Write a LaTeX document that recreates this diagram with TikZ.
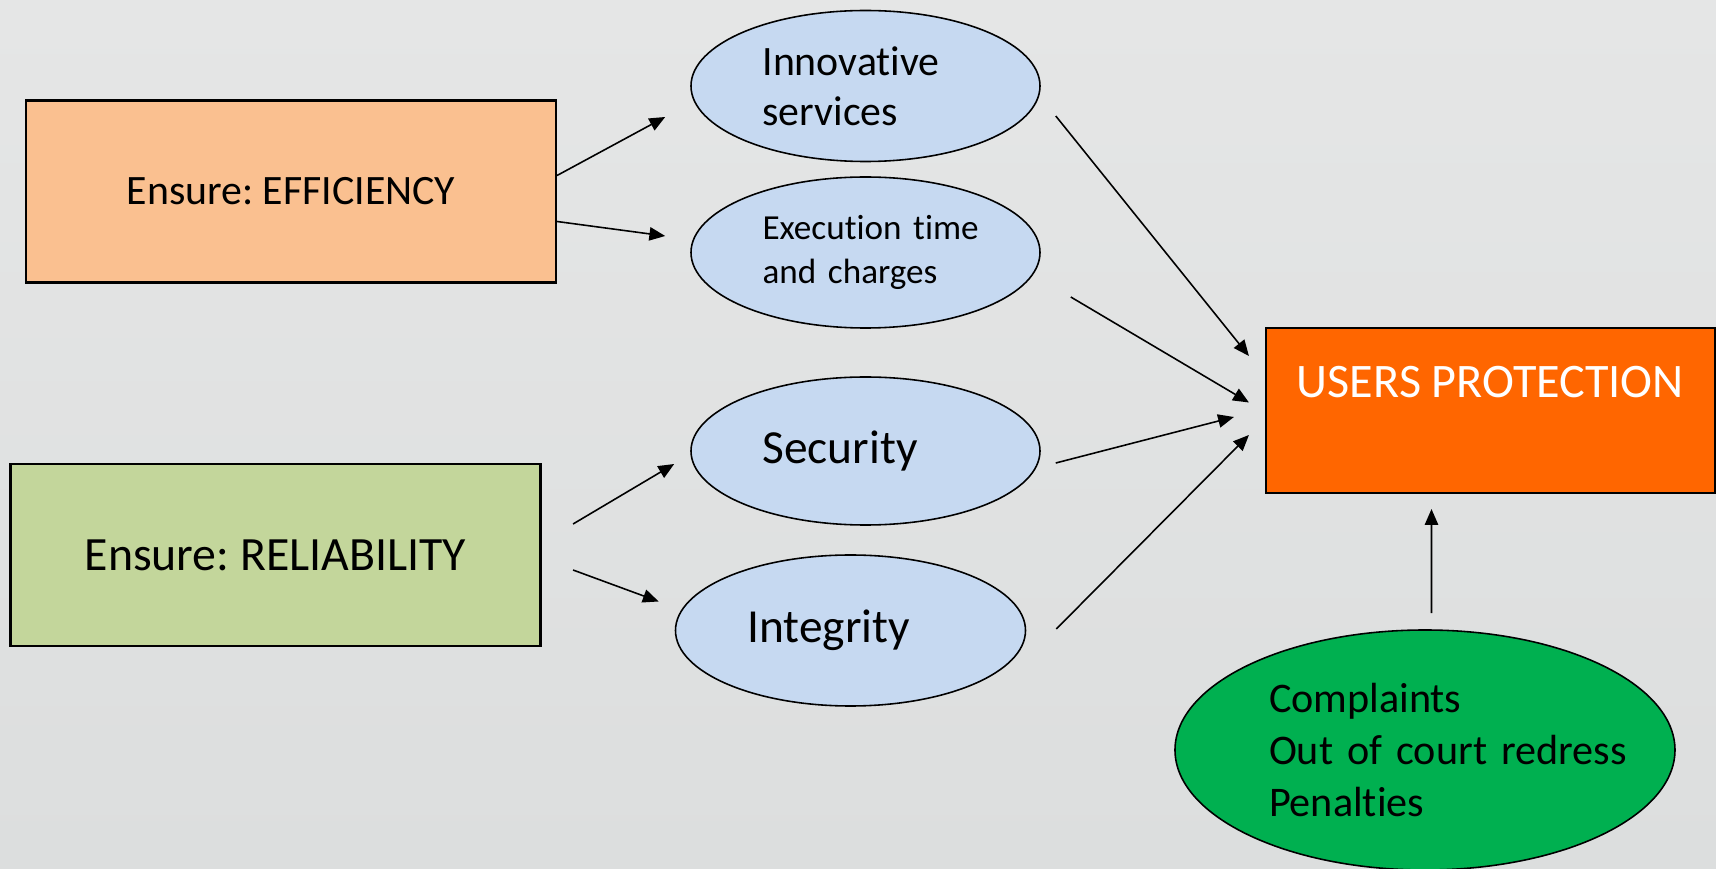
\documentclass[tikz,border=0pt]{standalone}
\usepackage{fontspec}
\setmainfont{Carlito}[Ligatures=NoCommon]
\frenchspacing
\usetikzlibrary{arrows.meta,shapes.geometric}

\definecolor{BgTop}{HTML}{E5E6E6}
\definecolor{BgBottom}{HTML}{DCDEDE}
\definecolor{EffOrange}{HTML}{FAC090}
\definecolor{RelGreen}{HTML}{C3D69B}
\definecolor{TopicBlue}{HTML}{C6D9F1}
\definecolor{UspOrange}{HTML}{FF6600}
\definecolor{CmpGreen}{HTML}{00B050}

\begin{document}
\begin{tikzpicture}[
        %Environment Config
        line width=0.6pt,
        MyArrow/.style={%Style for the links
            -{Triangle[length=4.5pt,width=3.8pt]},
            black,
            line width=0.45pt
        },
        GoalBox/.style={%Style for the goal boxes
            draw,
            rectangle,
            inner sep=0pt,
            minimum width=5.30cm,
            minimum height=1.82cm
        },
        Topic/.style={%Style for the blue ellipses
            draw,
            ellipse,
            fill=TopicBlue,
            line width=0.45pt,
            inner sep=0pt,
            text width=2.06cm,
            align=left,
            minimum width=3.49cm,
            minimum height=1.51cm
        }
    ]
    % page frame and background
    \useasboundingbox (0,0) rectangle (17.16,-8.69);
    \clip (0,0) rectangle (17.16,-8.69);
    \shade[top color=BgTop, bottom color=BgBottom] (0,0) rectangle (17.16,-8.69);

    %%%%%%%%%%%%%%%%%%%%%%%%%%%%%%%%%%%%%%%%%%%%%%%%%%%%%%%%%%%%%%%%%%%%%%%%%%%%
    % GOALS
    %%%%%%%%%%%%%%%%%%%%%%%%%%%%%%%%%%%%%%%%%%%%%%%%%%%%%%%%%%%%%%%%%%%%%%%%%%%%
    % efficiency part
    \draw (2.91,-1.915) node[GoalBox, fill=EffOrange, font=\fontsize{11.9}{14.3}\selectfont] (EFF) {Ensure: EFFICIENCY};
    \draw (8.655,-0.86) node[Topic, font=\fontsize{11.9}{14.2}\selectfont] (INO) {Innovative\\services};
    \draw (8.655,-2.525) node[Topic, font=\fontsize{10}{12.3}\selectfont] (EXE) {\mbox{Execution time}\\\mbox{and charges}};

    \draw[MyArrow] ([yshift=0.16cm]EFF.east) -- ([xshift=-0.25cm,yshift=-0.31cm]INO.west);
    \draw[MyArrow] ([yshift=-0.30cm]EFF.east) -- ([xshift=-0.25cm,yshift=0.165cm]EXE.west);

    % reliability part
    \draw (2.755,-5.55) node[GoalBox, fill=RelGreen, font=\fontsize{13.6}{16.3}\selectfont] (REL) {Ensure: RELIABILITY};
    \draw (8.655,-4.51) node[Topic, minimum height=1.48cm, font=\fontsize{13.5}{16.2}\selectfont] (SEC) {Security};
    \draw (8.505,-6.305) node[Topic, minimum width=3.50cm, font=\fontsize{13.5}{16.2}\selectfont] (INT) {Integrity};

    \draw[MyArrow] ([xshift=0.315cm,yshift=0.31cm]REL.east) -- ([xshift=-0.16cm,yshift=-0.13cm]SEC.west);
    \draw[MyArrow] ([xshift=0.315cm,yshift=-0.15cm]REL.east) -- ([xshift=-0.16cm,yshift=0.29cm]INT.west);

    %%%%%%%%%%%%%%%%%%%%%%%%%%%%%%%%%%%%%%%%%%%%%%%%%%%%%%%%%%%%%%%%%%%%%%%%%%%%
    % PROTECTION
    %%%%%%%%%%%%%%%%%%%%%%%%%%%%%%%%%%%%%%%%%%%%%%%%%%%%%%%%%%%%%%%%%%%%%%%%%%%%
    \draw (14.905,-4.105) node[draw, fill=UspOrange, text=white, minimum width=4.49cm,
        inner xsep=0pt, inner ysep=0.2cm, text height=0.5cm, text depth=0.75cm,
        font=\fontsize{13.7}{16.5}\selectfont] (USP) {USERS PROTECTION};
    \draw (14.25,-7.50) node[draw, ellipse, fill=CmpGreen, line width=0.45pt, inner sep=0pt,
        text width=3.12cm, align=left, minimum width=5.0cm, minimum height=2.4cm,
        font=\fontsize{12}{14.8}\selectfont] (CMP) {Complaints\\\mbox{Out of court redress}\\Penalties};

    \draw[MyArrow] ([xshift=0.15cm,yshift=-0.30cm]INO.east) -- ([xshift=-0.16cm,yshift=0.545cm]USP.west);
    \draw[MyArrow] ([xshift=0.30cm,yshift=-0.445cm]EXE.east) -- ([xshift=-0.16cm,yshift=0.08cm]USP.west);
    \draw[MyArrow] ([xshift=0.15cm,yshift=-0.12cm]SEC.east) -- ([xshift=-0.31cm,yshift=-0.065cm]USP.west);
    \draw[MyArrow] ([xshift=0.30cm,yshift=0.015cm]INT.east) -- ([xshift=-0.16cm,yshift=-0.245cm]USP.west);
    \draw[MyArrow] ([xshift=0.065cm,yshift=0.16cm]CMP.north) -- ([xshift=-0.59cm,yshift=-0.15cm]USP.south);
\end{tikzpicture}
\end{document}
